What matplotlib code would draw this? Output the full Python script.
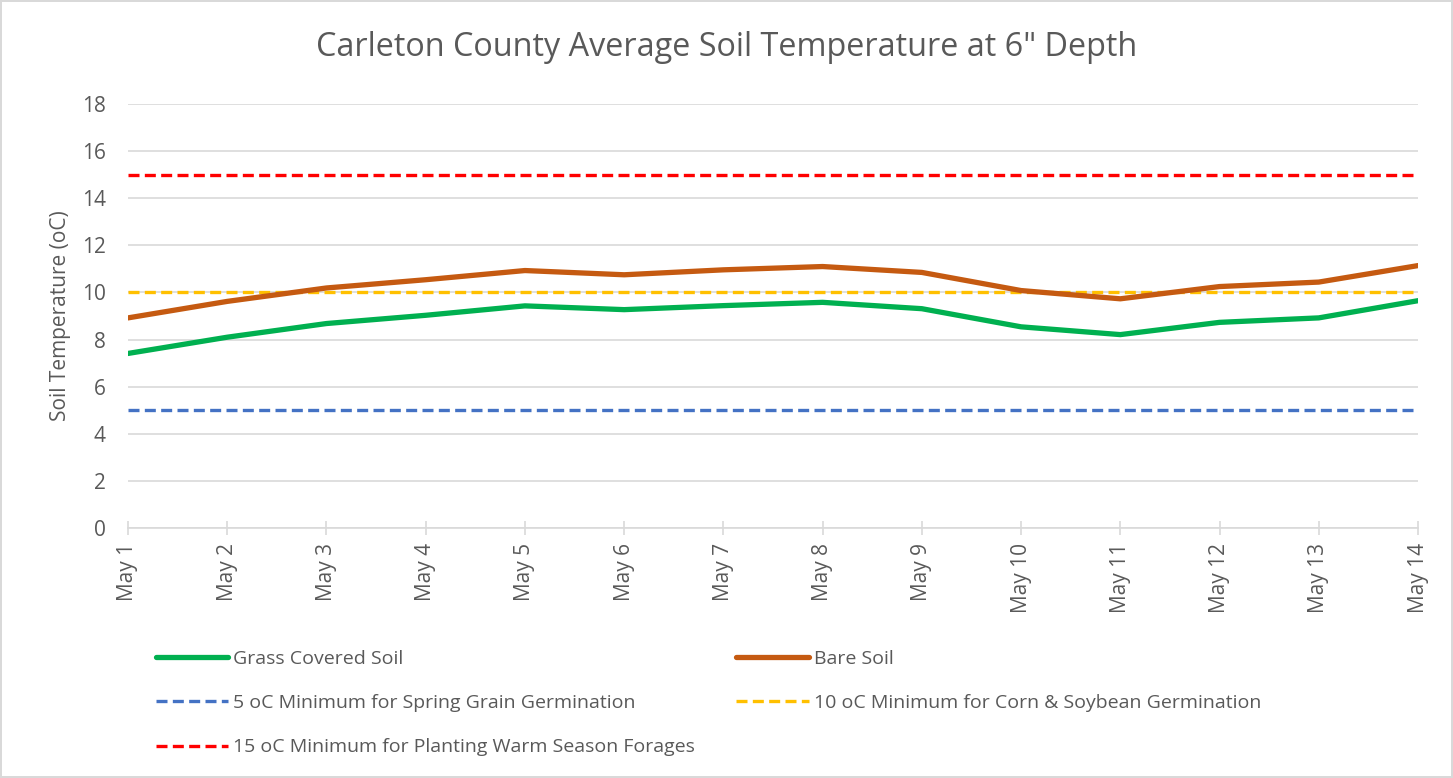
import matplotlib.pyplot as plt

days = ["May 1", "May 2", "May 3", "May 4", "May 5", "May 6", "May 7",
        "May 8", "May 9", "May 10", "May 11", "May 12", "May 13", "May 14"]
grass = [7.41, 8.10, 8.68, 9.03, 9.43, 9.27, 9.44, 9.58, 9.31, 8.54, 8.21, 8.73, 8.92, 9.65]
bare = [8.92, 9.62, 10.19, 10.54, 10.93, 10.75, 10.96, 11.10, 10.85, 10.08, 9.73, 10.25, 10.44, 11.14]
min_grain = 5
min_corn = 10
min_forage = 15

plt.rcParams['font.family'] = ['Open Sans', 'DejaVu Sans']
grey = "#595959"

fig = plt.figure(figsize=(14.53, 7.78), dpi=100)
fig.patch.set_edgecolor("#d9d9d9")
fig.patch.set_linewidth(1.5)
ax = fig.add_axes([128/1453, 1-528/778, 1290/1453, 424/778])

x = list(range(len(days)))
dash = (0, (3.3, 1.6))
l1, = ax.plot(x, grass, color="#00B050", lw=3.8, solid_capstyle="round", label="Grass Covered Soil", zorder=4)
l2, = ax.plot(x, bare, color="#C55A11", lw=3.8, solid_capstyle="round", label="Bare Soil", zorder=4)
l3, = ax.plot(x, [min_grain]*len(x), color="#4472C4", lw=2.4, ls=dash,
              label="5 oC Minimum for Spring Grain Germination", zorder=3)
l4, = ax.plot(x, [min_corn]*len(x), color="#FFC000", lw=2.4, ls=dash,
              label="10 oC Minimum for Corn & Soybean Germination", zorder=3)
l5, = ax.plot(x, [min_forage]*len(x), color="#FF0000", lw=2.4, ls=dash,
              label="15 oC Minimum for Planting Warm Season Forages", zorder=3)

ax.set_xlim(0, len(x)-1)
ax.set_ylim(0, 18)
ax.set_yticks(range(0, 19, 2))
ax.set_xticks(x)
ax.set_xticklabels(days, rotation=90, fontsize=15, color=grey)
ax.tick_params(axis="y", length=0, labelsize=15, labelcolor=grey, pad=16)
ax.tick_params(axis="x", direction="inout", length=10, width=1.2, color="#d9d9d9", pad=6)
ax.grid(axis="y", color="#d9d9d9", lw=1.2)
ax.set_axisbelow(True)
for s in ["top", "right", "left"]:
    ax.spines[s].set_visible(False)
ax.spines["bottom"].set_color("#d9d9d9")
ax.spines["bottom"].set_linewidth(1.2)
ax.set_ylabel("Soil Temperature (oC)", fontsize=15, color=grey)
ax.yaxis.set_label_coords(-0.044, 0.5)

fig.text(0.5, 1-48/778, "Carleton County Average Soil Temperature at 6\" Depth",
         ha="center", va="center", fontsize=23.3, color=grey)

fig.legend(handles=[l1, l3, l5, l2, l4], loc="upper left", ncol=2,
           bbox_to_anchor=(138/1453, 1-632/778), frameon=False,
           fontsize=14, labelcolor=grey, handlelength=3.75, handletextpad=0.25,
           columnspacing=2.1, labelspacing=1.36)

fig.savefig("out.png", dpi=100)
